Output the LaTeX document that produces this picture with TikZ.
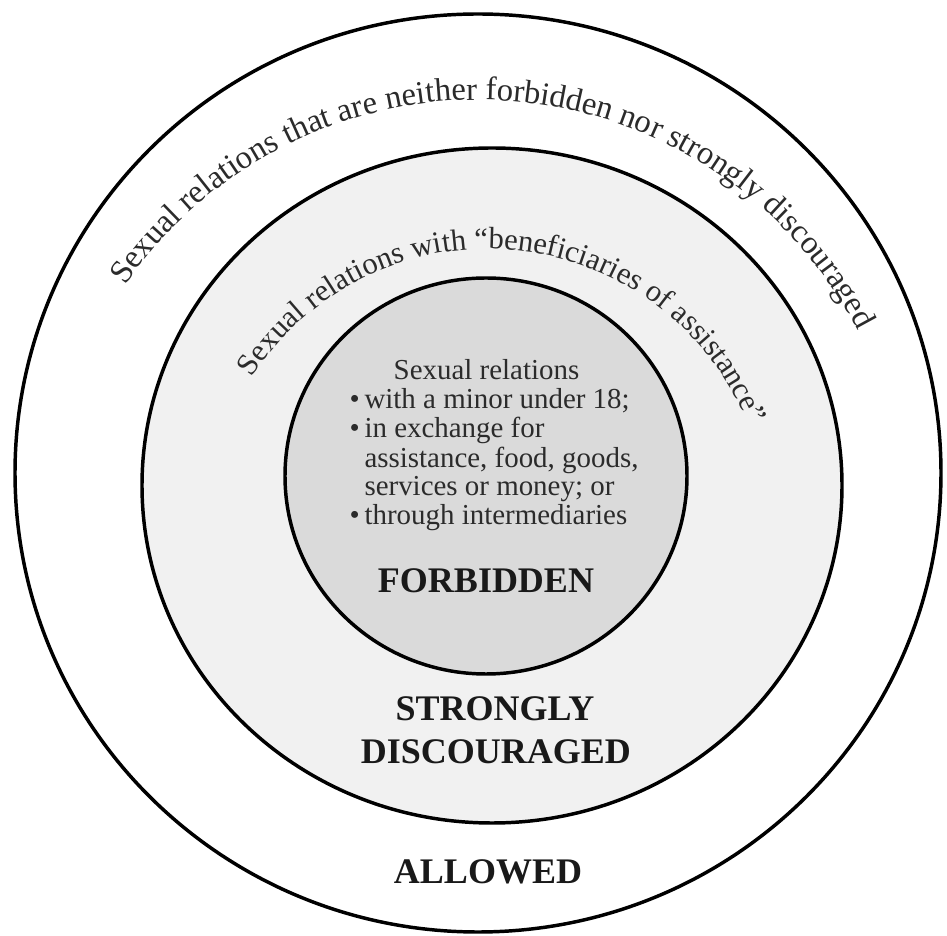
\documentclass[tikz,border=0pt]{standalone}
\usepackage{fontspec}
\setmainfont{Liberation Serif}
\usetikzlibrary{decorations.text}
\definecolor{ringgray}{HTML}{F1F1F1}
\definecolor{coregray}{HTML}{DADADA}
\definecolor{textgray}{HTML}{2B2B2B}
\newcommand{\smalltxt}{\fontsize{21.7}{21.7}\selectfont}
\newcommand{\leveltxt}{\fontsize{27}{32}\selectfont\bfseries}

\begin{document}
\begin{tikzpicture}[
    x=0.75pt, y=0.75pt,
    every path/.append style={line width=2.6pt},
    level/.style={font=\leveltxt, text=black!90, anchor=base, inner sep=0pt},
    arctext/.style 2 args={decorate, decoration={text along path, text align=center,
      text={|\fontsize{#1}{#1}\selectfont\color{textgray}|#2}}}
  ]
  \useasboundingbox (0,0) rectangle (947,936);
  % the three zones
  \draw[fill=white] (478,463) ellipse [x radius=463, y radius=459];
  \draw[fill=ringgray] (492,450.5) ellipse [x radius=350, y radius=337.5];
  \draw[fill=coregray] (486,460) ellipse [x radius=201, y radius=198];
  % curved labels
  \path[arctext={24.5}{Sexual relations that are neither forbidden nor strongly discouraged}]
    (478,408) ++(168:428) arc [start angle=168, end angle=5, radius=428];
  \path[arctext={23}{Sexual relations with “beneficiaries of assistance”}]
    (488,406) ++(165:281) arc [start angle=165, end angle=4, radius=281];
  % inner list
  \node[font=\smalltxt, text=textgray, anchor=base west, inner sep=0pt] (rules) at (348,556)
    {\begin{tabular}[t]{@{}l@{\hspace{3.5pt}}l@{}}
      \multicolumn{2}{@{}l@{}}{\hspace*{33pt}Sexual relations}\\
      \textbullet & with a minor under 18;\\
      \textbullet & in exchange for\\
      & assistance, food, goods,\\
      & services or money; or\\
      \textbullet & through intermediaries
    \end{tabular}};
  \node[level] (forbidden) at (486,343) {FORBIDDEN};
  \node[level] (strongly) at (495,215) {STRONGLY};
  \node[level] (discouraged) at (496,172) {DISCOURAGED};
  \node[level] (allowed) at (488,52) {ALLOWED};
\end{tikzpicture}
\end{document}
